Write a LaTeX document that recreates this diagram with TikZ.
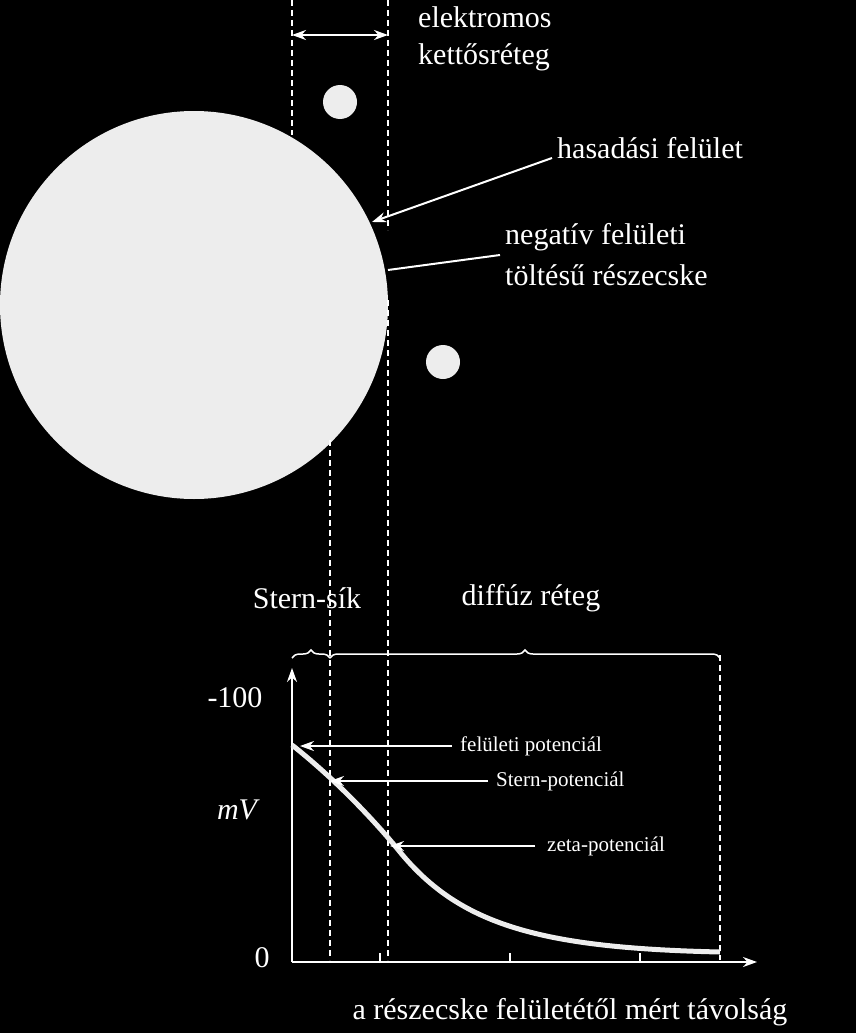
\documentclass[tikz,border=0pt]{standalone}
\usepackage{fontspec}
\setmainfont{Liberation Serif}
\usetikzlibrary{arrows.meta,decorations.pathreplacing}
\begin{document}
\begin{tikzpicture}[x=1pt,y=-1pt,
  big/.style={text=white,font=\fontsize{30}{34}\selectfont,inner sep=0pt},
  small/.style={text=white,font=\fontsize{21}{24}\selectfont,inner sep=0pt},
  dsh/.style={white,dashed,line width=1.3pt,dash pattern=on 6pt off 4pt},
  ln/.style={white,line width=2pt},
  arr/.style={white,line width=2pt,-{Stealth[length=14pt,width=10pt]}}]
\fill[black] (0,0) rectangle (856,1033);
\useasboundingbox (0,0) rectangle (856,1033);
\fill[white!93!black] (194,305) circle (194);
\fill[white!93!black] (340,102) circle (17);
\fill[white!93!black] (443,362) circle (17);
\draw[dsh] (292,0) -- (292,135);
\draw[dsh] (388,0) -- (388,230);
\draw[dsh] (388,300) -- (388,960);
\draw[dsh] (330,440) -- (330,960);
\draw[dsh] (720,655) -- (720,960);
\coordinate (dl) at (292,35); \coordinate (dr) at (388,35);
\draw[white,line width=2pt,{Stealth[length=14pt,width=10pt]}-{Stealth[length=14pt,width=10pt]}] (dl) -- (dr);
\node[big,anchor=west] (el) at (418,17) {elektromos};
\node[big,anchor=west] (ke) at (418,57) {kettősréteg};
\node[big,anchor=west] (ha) at (557,148) {hasadási felület};
\coordinate (hs) at (552,158); \coordinate (he) at (372,222);
\draw[arr] (hs) -- (he);
\node[big,anchor=west] (ne) at (505,237) {negatív felületi};
\node[big,anchor=west] (to) at (505,275) {töltésű részecske};
\coordinate (ns) at (500,255); \coordinate (nend) at (388,270);
\draw[ln] (ns) -- (nend);
\node[big] (st) at (307,598) {Stern-sík};
\node[big] (di) at (531,598) {diffúz réteg};
\draw[white,line width=1.5pt,decorate,decoration={brace,amplitude=8pt}] (292,658) -- (330,658);
\draw[white,line width=1.5pt,decorate,decoration={brace,amplitude=8pt}] (330,658) -- (720,658);
\coordinate (o) at (292,962);
\draw[arr] (o) -- (292,668);
\draw[arr] (o) -- (757,962);
\foreach \x in {380,510,640} \draw[white,line width=1.5pt] (\x,962) -- (\x,953);
\node[big] (m100) at (235,698) {-100};
\node[big] (zero) at (262,958) {0};
\node[big] (mv) at (237,810) {\itshape mV};
\draw[white!93!black,line width=5pt] (292,745) .. controls (330,775) and (370,815) .. (400,852)
  .. controls (460,925) and (540,948) .. (720,952);
\node[small,anchor=west] (fp) at (460,746) {felületi potenciál};
\draw[arr] (fp.west) ++(-8,0) -- (300,746);
\node[small,anchor=west] (sp) at (496,781) {Stern-potenciál};
\draw[arr] (sp.west) ++(-8,0) -- (330,781);
\node[small,anchor=west] (zp) at (547,846) {zeta-potenciál};
\draw[arr] (zp.west) ++(-12,0) -- (390,846);
\node[big] (bot) at (570,1012) {a részecske felületétől mért távolság};
\end{tikzpicture}
\end{document}
